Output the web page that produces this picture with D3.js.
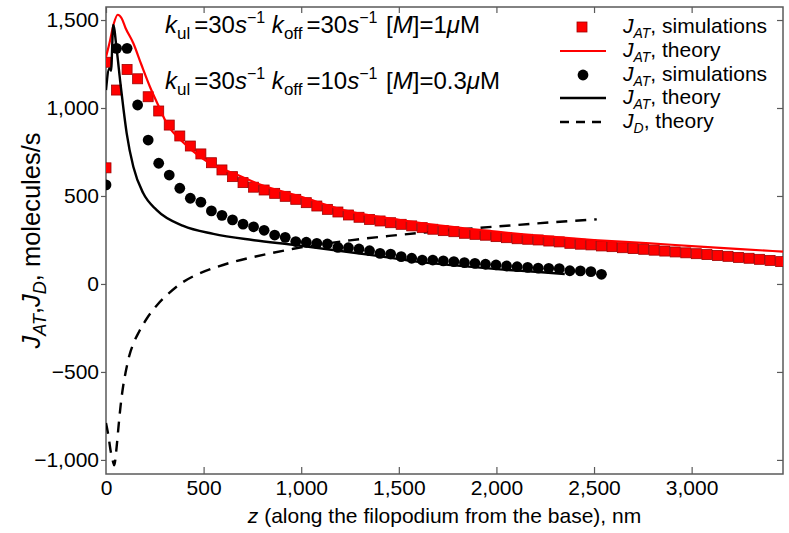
<!DOCTYPE html>
<html><head><meta charset="utf-8">
<script src="https://cdn.jsdelivr.net/npm/d3@7"></script>
<style>
body{margin:0;background:#fff}
svg{display:block}
text{font-family:"Liberation Sans",Arial,Helvetica,sans-serif;fill:#000}
</style>
</head><body>
<svg id="chart" width="789" height="533"></svg>
<script>
// ---------------- data ----------------
const xTicks = [0, 500, 1000, 1500, 2000, 2500, 3000];
const yTicks = [-1000, -500, 0, 500, 1000, 1500];

// J_AT simulations, first parameter set (red squares)
const redSimZ = [0, 0, 54, 108, 162, 216, 270, 324, 378, 432, 486, 540, 594, 648, 702, 756, 810, 864, 918, 972,
  1026, 1080, 1134, 1188, 1242, 1296, 1350, 1404, 1458, 1512, 1566, 1620, 1674, 1728, 1782, 1836, 1890, 1944, 1998,
  2052, 2106, 2160, 2214, 2268, 2322, 2376, 2430, 2484, 2538, 2592, 2646, 2700, 2754, 2808, 2862, 2916, 2970, 3024,
  3078, 3132, 3186, 3240, 3294, 3348, 3402, 3456];
const redSimJ = [660, 1260, 1102, 1219, 1166, 1064, 983, 903, 841, 784, 739, 689, 648, 610, 576, 550, 534, 515, 498, 481,
  462, 443, 424, 409, 392, 379, 367, 358, 348, 339, 330, 320, 311, 303, 297, 288, 282, 277, 269,
  263, 257, 254, 250, 244, 239, 231, 226, 222, 216, 212, 206, 201, 197, 192, 187, 182, 177, 172,
  167, 162, 157, 151, 146, 140, 134, 127];

// J_AT theory, first parameter set (red line)
const redThZ = [0, 20, 40, 60, 80, 100, 140, 180, 225, 270, 311, 400, 482, 560, 652, 789, 1000, 1250, 1500, 1762, 2000, 2275, 2500, 2787, 3000, 3250, 3468];
const redThJ = [1290, 1380, 1480, 1530, 1510, 1455, 1368, 1250, 1121, 1010, 913, 800, 723, 670, 629, 565, 495, 411, 365, 326, 297, 269, 250, 231, 215, 198, 184];

// J_AT simulations, second parameter set (black circles)
const blkSimZ = [0, 54, 108, 162, 216, 270, 324, 378, 432, 486, 540, 594, 648, 702, 756, 810, 864, 918, 972, 1026,
  1080, 1134, 1188, 1242, 1296, 1350, 1404, 1458, 1512, 1566, 1620, 1674, 1728, 1782, 1836, 1890, 1944, 1998,
  2052, 2106, 2160, 2214, 2268, 2322, 2376, 2430, 2484, 2538];
const blkSimJ = [563, 1339, 1339, 1017, 818, 686, 619, 544, 487, 465, 415, 390, 364, 340, 325, 305, 278, 265, 241, 237,
  231, 227, 208, 206, 199, 189, 174, 170, 155, 146, 136, 136, 131, 127, 121, 117, 112, 108,
  102, 98, 94, 90, 89, 87, 75, 74, 70, 55];

// J_AT theory, second parameter set (black line)
const blkThZ = [0, 17, 26, 37, 55, 72, 90, 106, 140, 191, 260, 396, 550, 750, 960, 1164, 1400, 1591, 1800, 2018, 2200, 2350];
const blkThJ = [1102, 1225, 1212, 1472, 1330, 1159, 990, 856, 666, 515, 420, 330, 285, 250, 222, 193, 158, 127, 104, 83, 69, 57];

// J_D theory (dashed line)
const jdZ = [0, 12, 24, 36, 42, 55, 65, 75, 88, 100, 120, 140, 170, 210, 260, 320, 380, 450, 550, 650, 750, 850, 960, 1100, 1250, 1450, 1677, 1900, 2104, 2300, 2514];
const jdJ = [-790, -860, -950, -1010, -1030, -920, -800, -690, -580, -505, -405, -340, -270, -195, -122, -55, 0, 45, 90, 125, 152, 176, 200, 225, 248, 273, 297, 318, 335, 352, 367];

const legendSubs = ["AT", "AT", "AT", "AT", "D"];
const legendTexts = [", simulations", ", theory", ", simulations", ", theory", ", theory"];

// ---------------- layout ----------------
const svg = d3.select("#chart");
const L = 106, R = 783, T = 7, B = 474;
const x = d3.scaleLinear([0, 3468], [L, R]);
const y = d3.scaleLinear([-1080, 1574], [B, T]);
const frameColor = "#5a5a5a";

svg.append("defs").append("clipPath").attr("id", "plotclip")
  .append("rect").attr("x", L).attr("y", T).attr("width", R - L).attr("height", B - T);

const fmt = d3.format(",");

// axes
const gx = svg.append("g").attr("transform", `translate(0,${B})`)
  .call(d3.axisBottom(x).tickValues(xTicks).tickFormat(fmt).tickSizeInner(-7).tickSizeOuter(0).tickPadding(6));
const gy = svg.append("g").attr("transform", `translate(${L},0)`)
  .call(d3.axisLeft(y).tickValues(yTicks).tickFormat(fmt).tickSizeInner(5).tickSizeOuter(0).tickPadding(2));
const gt = svg.append("g").attr("transform", `translate(0,${T})`)
  .call(d3.axisTop(x).tickValues(xTicks).tickFormat("").tickSizeInner(-6).tickSizeOuter(0));
const gr = svg.append("g").attr("transform", `translate(${R},0)`)
  .call(d3.axisRight(y).tickValues(yTicks).tickFormat("").tickSizeInner(-6).tickSizeOuter(0));
[gx, gy, gt, gr].forEach(g => {
  g.select(".domain").remove();
  g.selectAll(".tick line").attr("stroke", frameColor).attr("stroke-width", 1.2);
  g.selectAll(".tick text").style("font-size", "21px").attr("fill", "#000")
    .style("font-family", '"Liberation Sans",Arial,sans-serif');
});
gx.select(".tick:first-of-type line").remove();
svg.append("rect").attr("x", L).attr("y", T).attr("width", R - L).attr("height", B - T)
  .attr("fill", "none").attr("stroke", frameColor).attr("stroke-width", 1.5);

// marks
const plot = svg.append("g").attr("clip-path", "url(#plotclip)");
const line = d3.line().x(d => x(d[0])).y(d => y(d[1])).curve(d3.curveMonotoneX);

plot.append("path").datum(jdZ.map((z, i) => [z, jdJ[i]]))
  .attr("d", line).attr("fill", "none").attr("stroke", "#000").attr("stroke-width", 2.4)
  .attr("stroke-dasharray", "11,8");

plot.append("g").selectAll("rect").data(redSimZ.map((z, i) => [z, redSimJ[i]])).join("rect")
  .attr("x", d => x(d[0]) - 5).attr("y", d => y(d[1]) - 5).attr("width", 10).attr("height", 10)
  .attr("fill", "#ff0000").attr("stroke", "#a00000").attr("stroke-width", 0.8);

plot.append("path").datum(redThZ.map((z, i) => [z, redThJ[i]]))
  .attr("d", line).attr("fill", "none").attr("stroke", "#ff0000").attr("stroke-width", 2.2);

plot.append("g").selectAll("circle").data(blkSimZ.map((z, i) => [z, blkSimJ[i]])).join("circle")
  .attr("cx", d => x(d[0])).attr("cy", d => y(d[1])).attr("r", 5.4).attr("fill", "#000");

plot.append("path").datum(blkThZ.map((z, i) => [z, blkThJ[i]]))
  .attr("d", line).attr("fill", "none").attr("stroke", "#000").attr("stroke-width", 2.4);

// annotations
function annot(yb, koff, conc) {
  const t = svg.append("text").attr("x", 165).attr("y", yb).style("font-size", "24px");
  t.append("tspan").text("k").style("font-style", "italic");
  t.append("tspan").text("ul").style("font-size", "17px").attr("dy", 6);
  t.append("tspan").text("=30").attr("dy", -6).attr("dx", 4);
  t.append("tspan").text("s").style("font-style", "italic");
  t.append("tspan").text("−1").style("font-size", "16px").attr("dy", -10);
  t.append("tspan").text(" k").style("font-style", "italic").attr("dy", 10);
  t.append("tspan").text("off").style("font-size", "17px").attr("dy", 6);
  t.append("tspan").text("=" + koff).attr("dy", -6).attr("dx", 4);
  t.append("tspan").text("s").style("font-style", "italic");
  t.append("tspan").text("−1").style("font-size", "16px").attr("dy", -10);
  t.append("tspan").text(" [").attr("dy", 10).attr("dx", 2);
  t.append("tspan").text("M").style("font-style", "italic");
  t.append("tspan").text("]=" + conc);
  t.append("tspan").text("μ").style("font-style", "italic");
  t.append("tspan").text("M");
}
annot(33, "30", "1");
annot(89, "10", "0.3");

// legend
const lg = svg.append("g");
const rowY = [27, 51, 75, 98, 122];
lg.append("rect").attr("x", 577).attr("y", rowY[0] - 5).attr("width", 10).attr("height", 10)
  .attr("fill", "#ff0000").attr("stroke", "#a00000").attr("stroke-width", 0.8);
lg.append("line").attr("x1", 560).attr("x2", 606).attr("y1", rowY[1]).attr("y2", rowY[1])
  .attr("stroke", "#ff0000").attr("stroke-width", 2.2);
lg.append("circle").attr("cx", 583).attr("cy", rowY[2]).attr("r", 5.4).attr("fill", "#000");
lg.append("line").attr("x1", 560).attr("x2", 606).attr("y1", rowY[3]).attr("y2", rowY[3])
  .attr("stroke", "#000").attr("stroke-width", 2.4);
lg.append("line").attr("x1", 560).attr("x2", 604).attr("y1", rowY[4]).attr("y2", rowY[4])
  .attr("stroke", "#000").attr("stroke-width", 2.4).attr("stroke-dasharray", "9,7");
legendTexts.forEach((txt, i) => {
  const t = lg.append("text").attr("x", 623).attr("y", rowY[i] + 6).style("font-size", "21px");
  t.append("tspan").text("J").style("font-style", "italic");
  t.append("tspan").text(legendSubs[i]).style("font-style", "italic").style("font-size", "14px").attr("dy", 5);
  t.append("tspan").text(txt).attr("dy", -5);
});

// axis labels
const xl = svg.append("text").attr("x", (L + R) / 2).attr("y", 523).attr("text-anchor", "middle").style("font-size", "21px");
xl.append("tspan").text("z").style("font-style", "italic");
xl.append("tspan").text(" (along the filopodium from the base), nm");

const yl = svg.append("text").attr("transform", `translate(40,${(T + B) / 2}) rotate(-90)`)
  .attr("text-anchor", "middle").style("font-size", "25.5px");
yl.append("tspan").text("J").style("font-style", "italic");
yl.append("tspan").text("AT").style("font-style", "italic").style("font-size", "18px").attr("dy", 6);
yl.append("tspan").text(",").attr("dy", -6);
yl.append("tspan").text("J").style("font-style", "italic");
yl.append("tspan").text("D").style("font-style", "italic").style("font-size", "18px").attr("dy", 6);
yl.append("tspan").text(", molecules/s").attr("dy", -6);
</script>
</body></html>
